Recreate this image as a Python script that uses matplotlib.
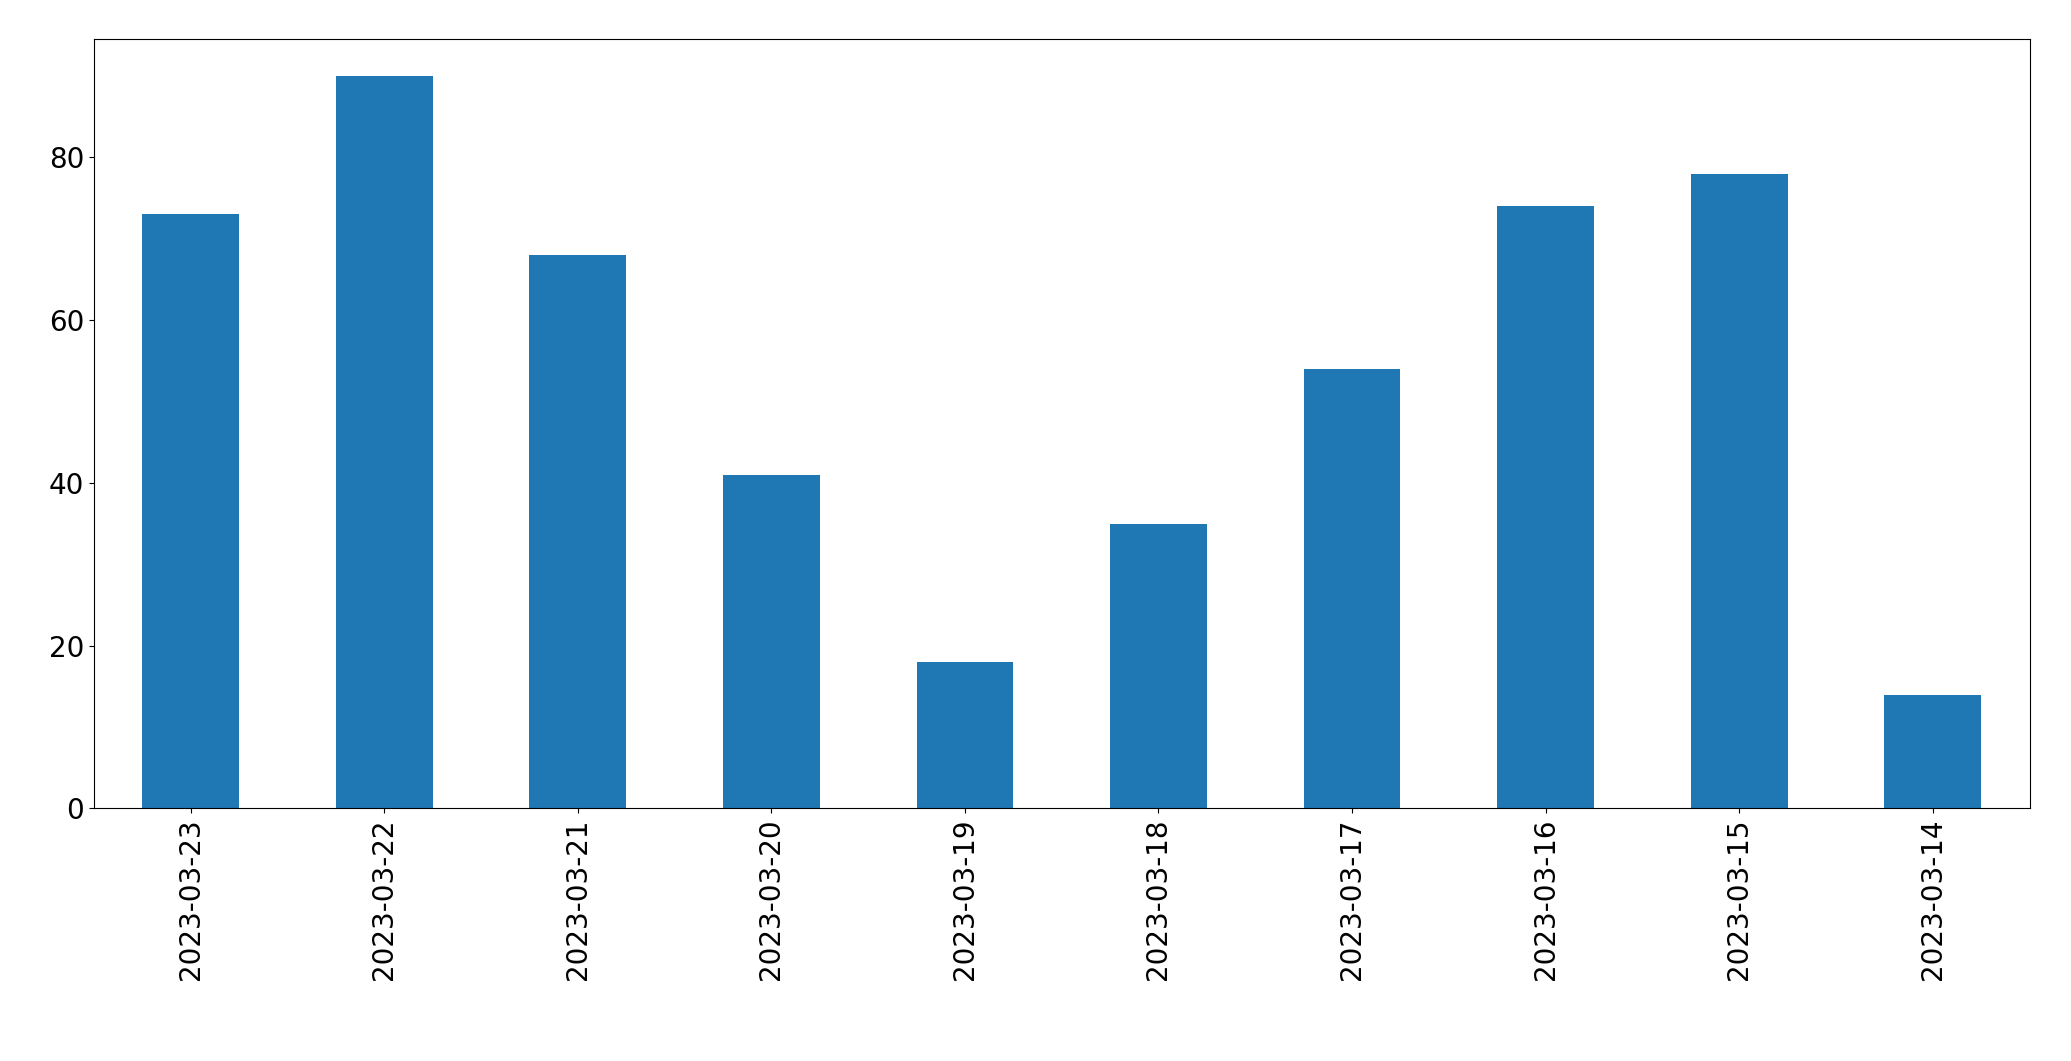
import matplotlib
matplotlib.use("Agg")
import matplotlib.pyplot as plt
import numpy as np

dates = ["2023-03-23", "2023-03-22", "2023-03-21", "2023-03-20", "2023-03-19",
         "2023-03-18", "2023-03-17", "2023-03-16", "2023-03-15", "2023-03-14"]
values = [73, 90, 68, 41, 18, 35, 54, 74, 78, 14]

fig = plt.figure(figsize=(20.71, 10.61), dpi=100)
ax = fig.add_axes([0.0453, 0.238, 0.9347, 0.725])
x = np.arange(len(dates))
ax.bar(x, values, width=0.5, color="#1f77b4")
ax.set_xlim(-0.5, len(dates) - 0.5)
ax.set_xticks(x)
ax.set_xticklabels(dates, rotation=90)
ax.tick_params(labelsize=20)
fig.savefig("out.png", dpi=100)
